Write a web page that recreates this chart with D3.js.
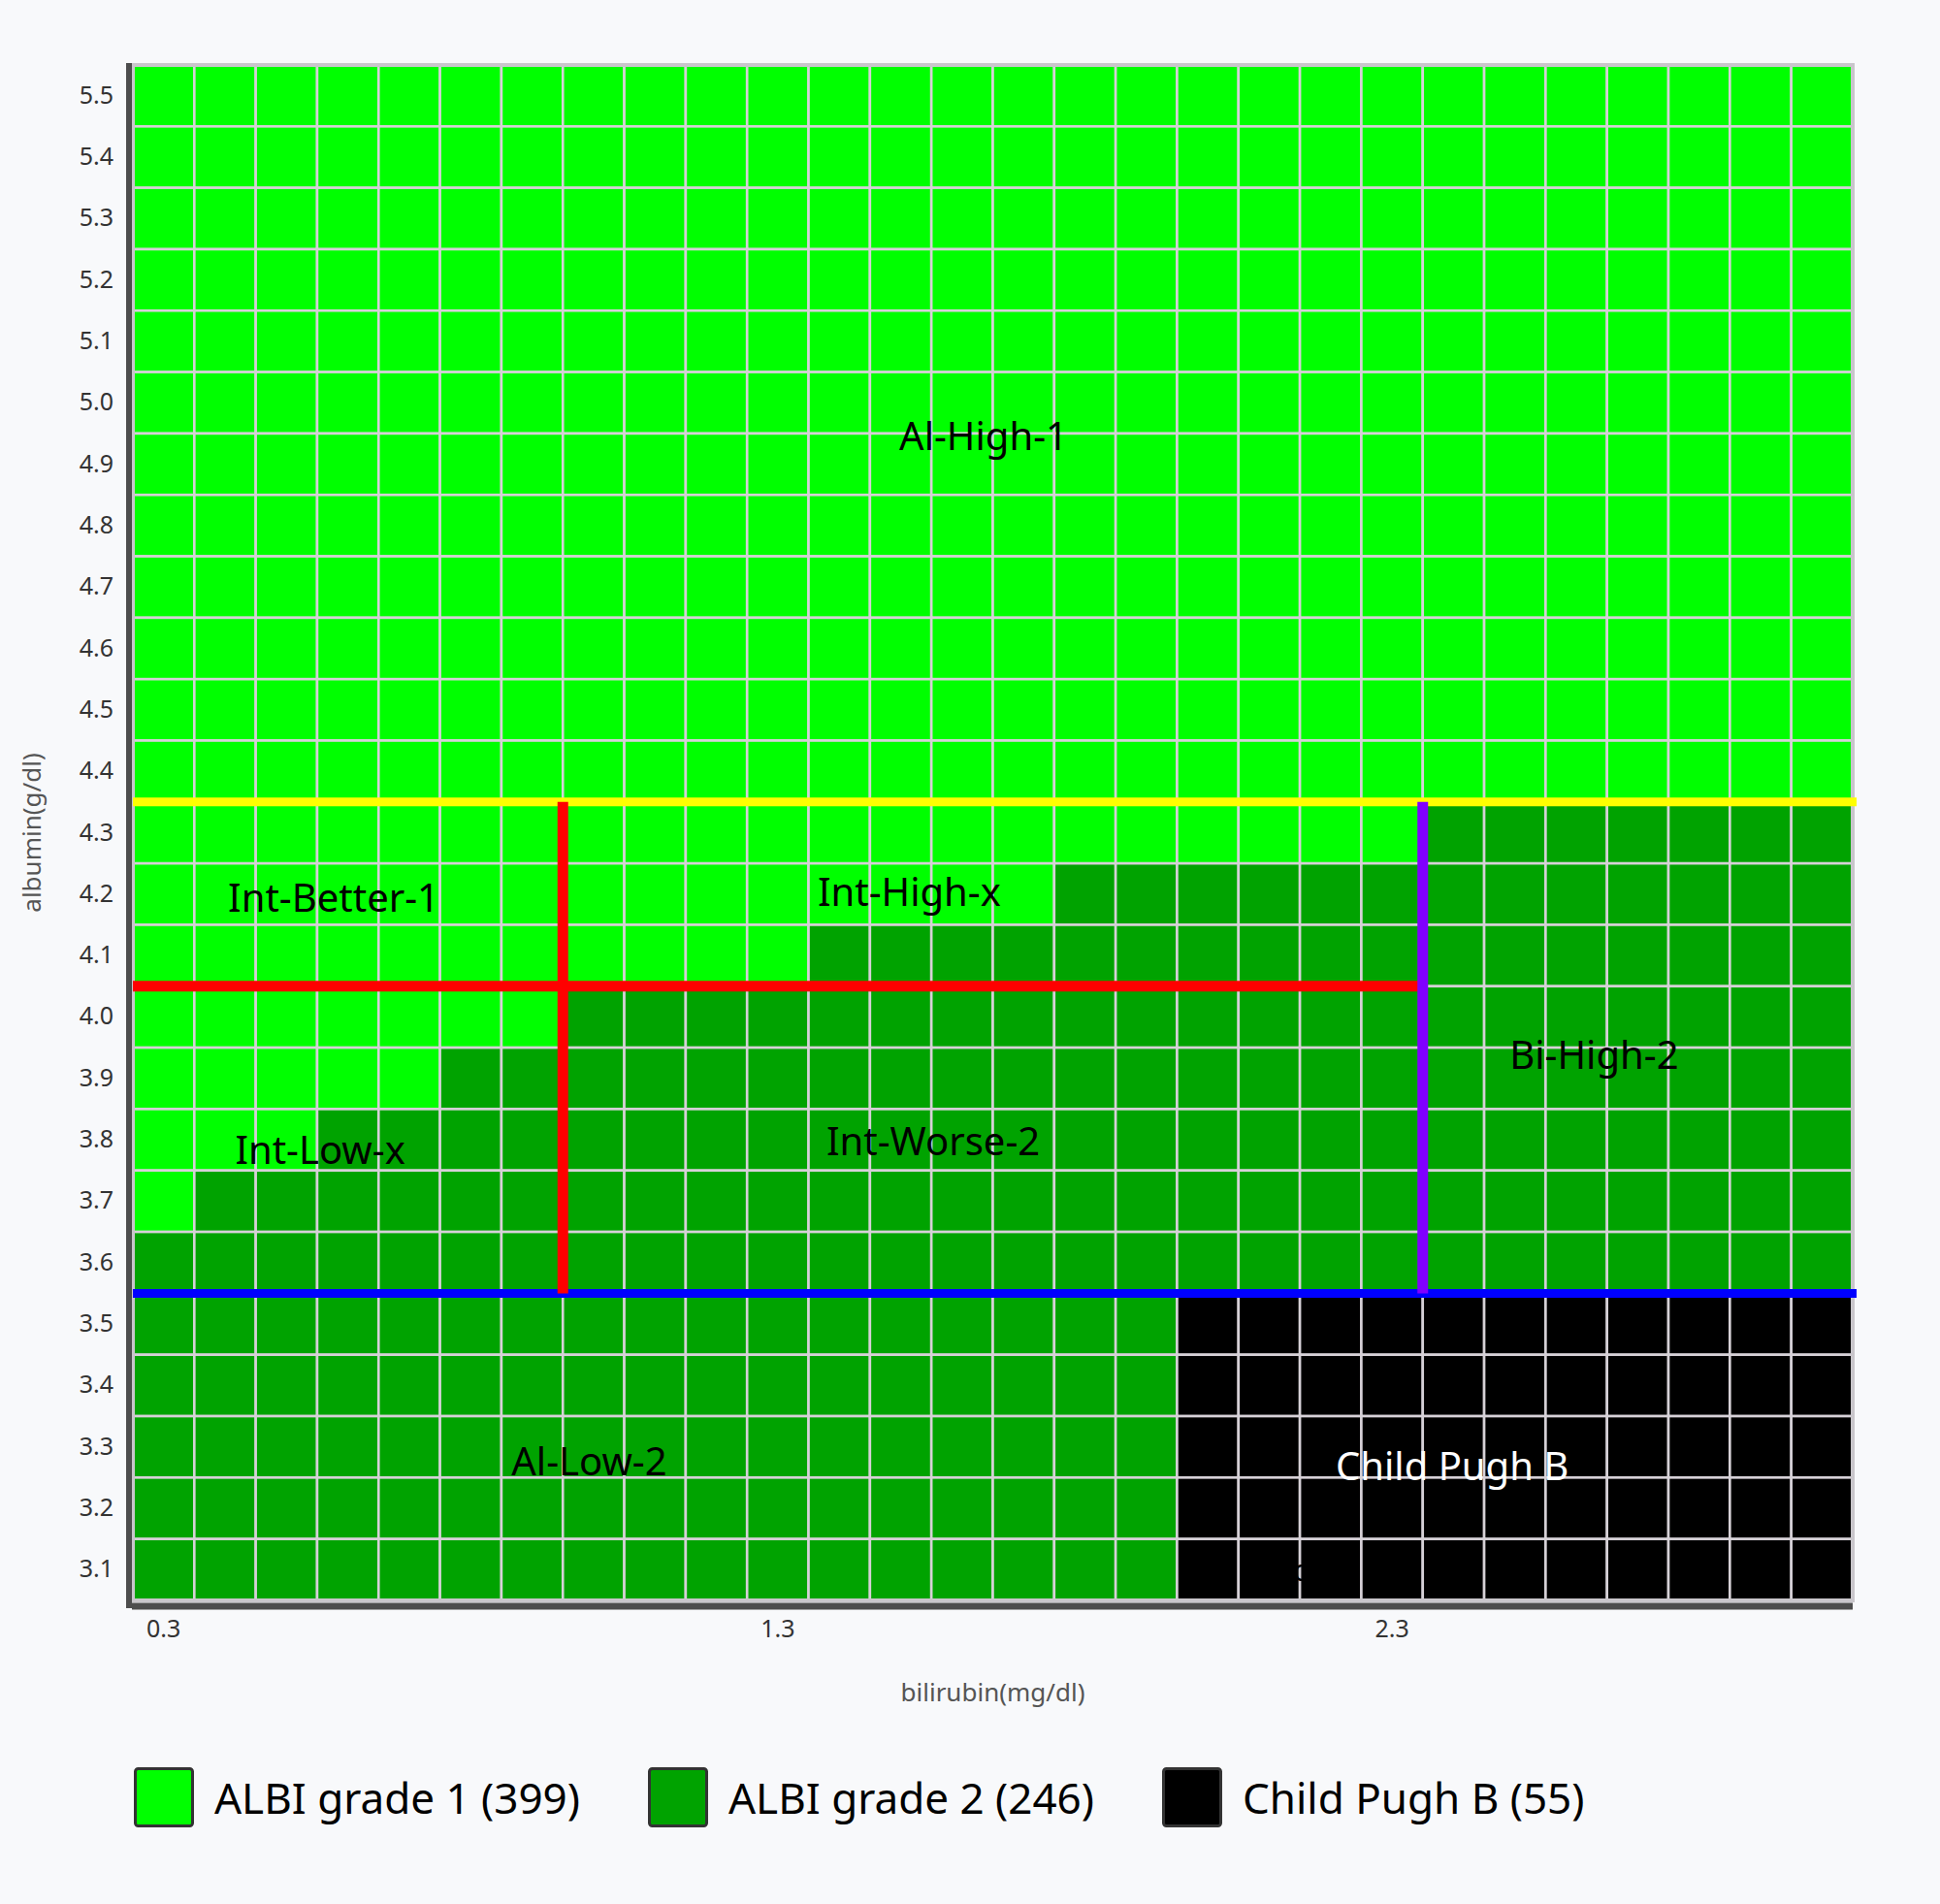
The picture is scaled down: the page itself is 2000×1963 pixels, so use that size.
<!DOCTYPE html>
<html>
<head>
<meta charset="utf-8">
<script src="https://cdn.jsdelivr.net/npm/d3@7"></script>
<style>
  html, body { margin: 0; padding: 0; background: #f8f9fb; }
  svg { display: block; }
</style>
</head>
<body>
<svg id="chart" width="2000" height="1963"></svg>
<script>
// Axis categories
const bilirubin = ['0.3','0.4','0.5','0.6','0.7','0.8','0.9','1.0','1.1','1.2','1.3','1.4','1.5','1.6',
                   '1.7','1.8','1.9','2.0','2.1','2.2','2.3','2.4','2.5','2.6','2.7','2.8','2.9','3.0'];
const albumin = ['5.5','5.4','5.3','5.2','5.1','5.0','4.9','4.8','4.7','4.6','4.5','4.4','4.3',
                 '4.2','4.1','4.0','3.9','3.8','3.7','3.6','3.5','3.4','3.3','3.2','3.1'];
const xTicks = ['0.3', '1.3', '2.3'];

// One string per albumin row, one char per bilirubin column (1 = ALBI 1, 2 = ALBI 2, B = Child Pugh B)
const gradeRows = [
  '1111111111111111111111111111', // 5.5
  '1111111111111111111111111111', // 5.4
  '1111111111111111111111111111', // 5.3
  '1111111111111111111111111111', // 5.2
  '1111111111111111111111111111', // 5.1
  '1111111111111111111111111111', // 5.0
  '1111111111111111111111111111', // 4.9
  '1111111111111111111111111111', // 4.8
  '1111111111111111111111111111', // 4.7
  '1111111111111111111111111111', // 4.6
  '1111111111111111111111111111', // 4.5
  '1111111111111111111111111111', // 4.4
  '1111111111111111111112222222', // 4.3
  '1111111111111112222222222222', // 4.2
  '1111111111122222222222222222', // 4.1
  '1111111222222222222222222222', // 4.0
  '1111122222222222222222222222', // 3.9
  '1112222222222222222222222222', // 3.8
  '1222222222222222222222222222', // 3.7
  '2222222222222222222222222222', // 3.6
  '22222222222222222BBBBBBBBBBB', // 3.5
  '22222222222222222BBBBBBBBBBB', // 3.4
  '22222222222222222BBBBBBBBBBB', // 3.3
  '22222222222222222BBBBBBBBBBB', // 3.2
  '22222222222222222BBBBBBBBBBB'  // 3.1
];

const gradeKeys = ['1', '2', 'B'];
const gradeNames = ['ALBI grade 1', 'ALBI grade 2', 'Child Pugh B'];
const gradeColors = ['#00ff00', '#00a300', '#000000'];

// Cut-off lines in data units (bilirubin, albumin)
const cutLines = [
  { name: 'alHigh',  b1: 0.25, b2: 3.05, a1: 4.35, a2: 4.35 },
  { name: 'alLow',   b1: 0.25, b2: 3.05, a1: 3.55, a2: 3.55 },
  { name: 'intMid',  b1: 0.25, b2: 2.35, a1: 4.05, a2: 4.05 },
  { name: 'intBili', b1: 0.95, b2: 0.95, a1: 4.35, a2: 3.55 },
  { name: 'biHigh',  b1: 2.35, b2: 2.35, a1: 4.35, a2: 3.55 }
];
const cutColors = { alHigh: '#ffff00', alLow: '#0000ff', intMid: '#ff0000', intBili: '#ff0000', biHigh: '#8000ff' };
const cutWidths = { alHigh: 9, alLow: 9, intMid: 11, intBili: 11, biHigh: 11 };

// Region names and where they sit (bilirubin, albumin)
const regionNames = ['Al-High-1', 'Int-Better-1', 'Int-High-x', 'Int-Low-x', 'Int-Worse-2', 'Bi-High-2', 'Al-Low-2', 'Child Pugh B'];
const regionBili  = [1.635, 0.577, 1.514, 0.555, 1.553, 2.629, 0.993, 2.398];
const regionAlb   = [4.948, 4.196, 4.206, 3.785, 3.800, 3.940, 3.278, 3.270];

const font = '"Noto Sans", "Open Sans", sans-serif';
const svg = d3.select('#chart').attr('font-family', font);

const gridLeft = 137, gridRight = 1910, gridTop = 67, gridBottom = 1650;

const x = d3.scaleBand().domain(bilirubin).range([gridLeft, gridRight]);
const y = d3.scaleBand().domain(albumin).range([gridTop, gridBottom]);
const xv = d3.scaleLinear().domain([0.25, 3.05]).range([gridLeft, gridRight]);
const yv = d3.scaleLinear().domain([5.55, 3.05]).range([gridTop, gridBottom]);
const color = d3.scaleOrdinal().domain(gradeKeys).range(gradeColors);

const cells = [];
albumin.forEach((a, i) => {
  bilirubin.forEach((b, j) => cells.push({ a: a, b: b, grade: gradeRows[i][j] }));
});

// cells
svg.append('g')
  .selectAll('rect')
  .data(cells)
  .join('rect')
  .attr('x', d => x(d.b))
  .attr('y', d => y(d.a))
  .attr('width', x.bandwidth())
  .attr('height', y.bandwidth())
  .attr('fill', d => color(d.grade))
  .attr('stroke', '#d6d1d7')
  .attr('stroke-width', 2.6);

// outer border
svg.append('rect')
  .attr('x', gridLeft).attr('y', gridTop)
  .attr('width', gridRight - gridLeft).attr('height', gridBottom - gridTop)
  .attr('fill', 'none').attr('stroke', '#c9c6cb').attr('stroke-width', 4);

// hidden label sitting on the black block
svg.append('text')
  .attr('x', xv(2.15)).attr('y', yv(3.1))
  .attr('text-anchor', 'middle').attr('dominant-baseline', 'central')
  .attr('font-size', 30).attr('fill', '#000')
  .text('Bi-Low-x');

// cut-off lines
svg.append('g')
  .selectAll('line')
  .data(cutLines)
  .join('line')
  .attr('x1', d => xv(d.b1))
  .attr('x2', d => d.b2 === 3.05 ? xv(d.b2) + 4 : xv(d.b2))
  .attr('y1', d => yv(d.a1))
  .attr('y2', d => yv(d.a2))
  .attr('stroke', d => cutColors[d.name])
  .attr('stroke-width', d => cutWidths[d.name]);

// region labels
svg.append('g')
  .selectAll('text')
  .data(regionNames)
  .join('text')
  .attr('x', (d, i) => xv(regionBili[i]))
  .attr('y', (d, i) => yv(regionAlb[i]))
  .attr('text-anchor', 'middle')
  .attr('dominant-baseline', 'central')
  .attr('font-size', 40)
  .attr('fill', d => d === 'Child Pugh B' ? '#ffffff' : '#000000')
  .text(d => d);

// axes
const yAxis = svg.append('g')
  .attr('transform', `translate(${gridLeft - 4},0)`)
  .call(d3.axisLeft(y).tickSize(0).tickPadding(16));
const xAxis = svg.append('g')
  .attr('transform', `translate(0,${gridBottom + 6})`)
  .call(d3.axisBottom(x).tickValues(xTicks).tickSize(0).tickPadding(14));

[yAxis, xAxis].forEach(g => {
  g.attr('font-family', font).attr('font-size', 25);
  g.select('.domain').remove();
  g.selectAll('text').attr('fill', '#333');
});

// thick axis lines
svg.append('line')
  .attr('x1', gridLeft - 4).attr('x2', gridLeft - 4)
  .attr('y1', gridTop - 2).attr('y2', gridBottom + 8)
  .attr('stroke', '#4d4d4d').attr('stroke-width', 6);
svg.append('line')
  .attr('x1', gridLeft - 1).attr('x2', gridRight)
  .attr('y1', gridBottom + 6).attr('y2', gridBottom + 6)
  .attr('stroke', '#4d4d4d').attr('stroke-width', 7);

// axis titles
svg.append('text')
  .attr('x', (gridLeft + gridRight) / 2).attr('y', 1744)
  .attr('text-anchor', 'middle').attr('dominant-baseline', 'central')
  .attr('font-size', 26).attr('fill', '#555')
  .text('bilirubin(mg/dl)');
svg.append('text')
  .attr('transform', `translate(32,${(gridTop + gridBottom) / 2}) rotate(-90)`)
  .attr('text-anchor', 'middle').attr('dominant-baseline', 'central')
  .attr('font-size', 26).attr('fill', '#555')
  .text('albumin(g/dl)');

// legend with counts taken from the grid
const counts = gradeKeys.map(k => cells.filter(c => c.grade === k).length);
const legend = svg.append('g').attr('transform', 'translate(138,1822)');
let lx = 0;
gradeKeys.forEach((k, i) => {
  const item = legend.append('g').attr('transform', `translate(${lx},0)`);
  item.append('rect')
    .attr('x', 1.5).attr('y', 1.5)
    .attr('width', 59).attr('height', 59)
    .attr('rx', 3)
    .attr('fill', gradeColors[i])
    .attr('stroke', '#333').attr('stroke-width', 3);
  const t = item.append('text')
    .attr('x', 83).attr('y', 31)
    .attr('dominant-baseline', 'central')
    .attr('font-size', 44).attr('fill', '#000')
    .text(`${gradeNames[i]} (${counts[i]})`);
  lx += 83 + t.node().getComputedTextLength() + 70;
});
</script>
</body>
</html>
